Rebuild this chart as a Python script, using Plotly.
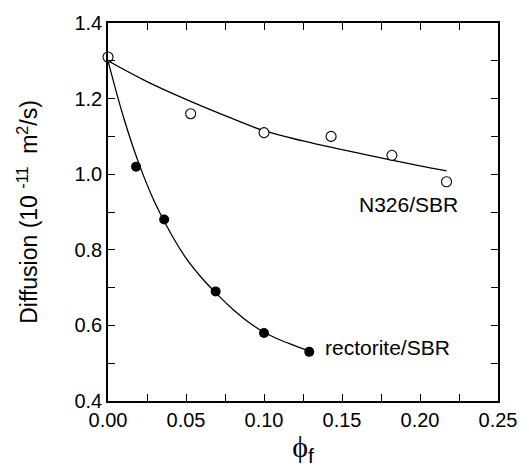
import plotly.graph_objects as go

n326_x = [0.0, 0.053, 0.100, 0.143, 0.182, 0.217]
n326_y = [1.31, 1.16, 1.11, 1.10, 1.05, 0.98]

rect_x = [0.018, 0.036, 0.069, 0.100, 0.129]
rect_y = [1.02, 0.88, 0.69, 0.58, 0.53]

# Fitted curves
n326_fit_x = [0.0, 0.025, 0.05, 0.075, 0.10, 0.125, 0.15, 0.175, 0.20, 0.217]
n326_fit_y = [1.30, 1.245, 1.198, 1.155, 1.115, 1.088, 1.065, 1.043, 1.022, 1.009]

rect_fit_x = [0.0, 0.01, 0.02, 0.03, 0.04, 0.05, 0.06, 0.07, 0.08, 0.09, 0.10, 0.11, 0.12, 0.129]
rect_fit_y = [1.30, 1.15, 1.026, 0.925, 0.845, 0.778, 0.726, 0.682, 0.643, 0.609, 0.582, 0.562, 0.546, 0.532]

x_ticks = [0.0, 0.05, 0.10, 0.15, 0.20, 0.25]
x_labels = ["0.00", "0.05", "0.10", "0.15", "0.20", "0.25"]
x_minor = [0.025, 0.075, 0.125, 0.175, 0.225]
y_ticks = [0.4, 0.6, 0.8, 1.0, 1.2, 1.4]
y_labels = ["0.4", "0.6", "0.8", "1.0", "1.2", "1.4"]
y_minor = [0.5, 0.7, 0.9, 1.1, 1.3]

font_family = "Liberation Sans, Arial, Helvetica, sans-serif"

fig = go.Figure()
fig.add_trace(go.Scatter(x=n326_fit_x, y=n326_fit_y, mode="lines",
                         line=dict(color="black", width=1.3, shape="spline", smoothing=1.0),
                         showlegend=False, hoverinfo="skip"))
fig.add_trace(go.Scatter(x=rect_fit_x, y=rect_fit_y, mode="lines",
                         line=dict(color="black", width=1.3, shape="spline", smoothing=1.0),
                         showlegend=False, hoverinfo="skip"))
fig.add_trace(go.Scatter(x=n326_x, y=n326_y, mode="markers", name="N326/SBR",
                         marker=dict(symbol="circle", size=10, color="white",
                                     line=dict(color="black", width=1.1)),
                         showlegend=False, cliponaxis=False))
fig.add_trace(go.Scatter(x=rect_x, y=rect_y, mode="markers", name="rectorite/SBR",
                         marker=dict(symbol="circle", size=10, color="black",
                                     line=dict(color="black", width=0)),
                         showlegend=False, cliponaxis=False))

fig.add_annotation(x=0.1925, y=0.921, text="N326/SBR", showarrow=False,
                   font=dict(family=font_family, size=21, color="black"))
fig.add_annotation(x=0.179, y=0.542, text="rectorite/SBR", showarrow=False,
                   font=dict(family=font_family, size=21, color="black"))

axis_common = dict(showgrid=False, zeroline=False, showline=True, linecolor="black",
                   linewidth=1.5, mirror="ticks", ticks="inside", ticklen=7,
                   tickwidth=1.2, tickcolor="black",
                   tickfont=dict(family=font_family, size=20, color="black"))

fig.update_xaxes(range=[0, 0.25], tickmode="array", tickvals=x_ticks, ticktext=x_labels,
                 minor=dict(tickmode="array", tickvals=x_minor, ticks="inside", ticklen=7,
                            tickwidth=1.2, tickcolor="black", showgrid=False),
                 title=dict(text="\u03d5<sub><span style='font-family:Liberation Sans'>f</span></sub>",
                            font=dict(family="Liberation Serif, Times New Roman, serif", size=30, color="black"),
                            standoff=6),
                 **axis_common)
fig.update_yaxes(range=[0.4, 1.4], tickmode="array", tickvals=y_ticks, ticktext=y_labels,
                 minor=dict(tickmode="array", tickvals=y_minor, ticks="inside", ticklen=7,
                            tickwidth=1.2, tickcolor="black", showgrid=False),
                 title=dict(text="Diffusion (10 <sup>-11</sup>  m<sup>2</sup>/s)",
                            font=dict(family=font_family, size=23, color="black"),
                            standoff=30),
                 **axis_common)

fig.update_layout(width=529, height=470, margin=dict(l=108, r=21, t=22, b=67),
                  paper_bgcolor="white", plot_bgcolor="white")

fig.write_html("out.html")
